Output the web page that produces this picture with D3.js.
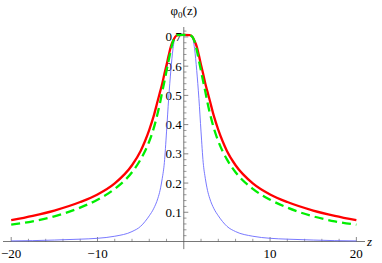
<!doctype html>
<html lang=en>
<head>
<meta charset="utf-8">
<title>phi0</title>
<style>
body { margin: 0; background: #fff; }
</style>
</head>
<body>
<div id=content></div>
<script src="https://cdn.jsdelivr.net/npm/d3@7"></script>
<script>

// z grid shared by all three curves
var zs = [-20,-17.5,-15,-12,-10,-8,-6,-5,-4.5,-4,-3.5,-3,-2.75,-2.5,-2.25,-2,-1.75,-1.5,-1.25,-1,-0.7,0,
          0.7,1,1.25,1.5,1.75,2,2.25,2.5,2.75,3,3.5,4,4.5,5,6,8,10,12,15,17.5,20];

// values
var blueVals  = [0.002,0.003,0.005,0.008,0.011,0.018,0.034,0.052,0.068,0.088,0.112,0.148,0.175,0.215,0.27,0.375,0.49,0.585,0.66,0.698,0.706,0.707,
                 0.706,0.698,0.66,0.585,0.49,0.375,0.27,0.215,0.175,0.148,0.112,0.088,0.068,0.052,0.034,0.018,0.011,0.008,0.005,0.003,0.002];
var redVals   = [0.073,0.088,0.106,0.135,0.161,0.199,0.261,0.310,0.343,0.382,0.428,0.484,0.512,0.540,0.573,0.604,0.637,0.667,0.686,0.70,0.706,0.707,
                 0.706,0.70,0.686,0.667,0.637,0.604,0.573,0.540,0.512,0.484,0.428,0.382,0.343,0.310,0.261,0.199,0.161,0.135,0.106,0.088,0.073];
var greenVals = [0.0575,0.069,0.086,0.116,0.143,0.180,0.237,0.281,0.309,0.343,0.386,0.442,0.475,0.512,0.547,0.584,0.62,0.655,0.684,0.70,0.706,0.707,
                 0.706,0.70,0.684,0.655,0.62,0.584,0.547,0.512,0.475,0.442,0.386,0.343,0.309,0.281,0.237,0.180,0.143,0.116,0.086,0.069,0.0575];

var xTicks = [-20,-10,10,20];
var xTickLabels = ["\u221220","\u221210","10","20"];
var yTicks = [0.1,0.2,0.3,0.4,0.5,0.6,0.7];
var yTickLabels = ["0.1","0.2","0.3","0.4","0.5","0.6","0.7"];

var W = 382, H = 263;
var serif = "'Liberation Serif', serif";

var x = d3.scaleLinear().domain([-20.95, 21]).range([3, 365]);
var y = d3.scaleLinear().domain([-0.026, 0.734]).range([249.1, 27]);

var svg = d3.select("#content").append("svg")
    .attr("width", W).attr("height", H);

var axisCol = "#555";

// axes lines
svg.append("line")
   .attr("x1", x(-20.95)).attr("x2", x(21))
   .attr("y1", y(0)).attr("y2", y(0))
   .attr("stroke", axisCol).attr("stroke-width", 0.8);
svg.append("line")
   .attr("x1", x(0)).attr("x2", x(0))
   .attr("y1", y(-0.026)).attr("y2", y(0.734))
   .attr("stroke", axisCol).attr("stroke-width", 0.8);

// x ticks (pointing up)
var xMinor = d3.range(-20, 21, 2).filter(d => d != 0 && d % 10 != 0);
var gx = svg.append("g").attr("transform", "translate(0," + y(0) + ")");
gx.selectAll(".maj").data(xTicks).join("line")
   .attr("x1", d => x(d)).attr("x2", d => x(d))
   .attr("y1", 0).attr("y2", -4.5)
   .attr("stroke", axisCol).attr("stroke-width", 0.7);
gx.selectAll(".min").data(xMinor).join("line")
   .attr("x1", d => x(d)).attr("x2", d => x(d))
   .attr("y1", 0).attr("y2", -2.7)
   .attr("stroke", axisCol).attr("stroke-width", 0.6);
gx.selectAll("text").data(xTicks).join("text")
   .attr("x", d => x(d)).attr("y", 16)
   .attr("text-anchor", "middle")
   .style("font-family", serif).style("font-size", "13px")
   .text((d, i) => xTickLabels[i]);

// y ticks (pointing right)
var yMinor = d3.range(1, 37).map(d => d * 0.02).filter(d => Math.abs(d * 10 - Math.round(d * 10)) > 1e-6);
var gy = svg.append("g").attr("transform", "translate(" + x(0) + ",0)");
gy.selectAll(".maj").data(yTicks).join("line")
   .attr("x1", 0).attr("x2", 4.5)
   .attr("y1", d => y(d)).attr("y2", d => y(d))
   .attr("stroke", axisCol).attr("stroke-width", 0.7);
gy.selectAll(".min").data(yMinor).join("line")
   .attr("x1", 0).attr("x2", 2.7)
   .attr("y1", d => y(d)).attr("y2", d => y(d))
   .attr("stroke", axisCol).attr("stroke-width", 0.6);
gy.selectAll("text").data(yTicks).join("text")
   .attr("x", -2).attr("y", d => y(d) + 4.5)
   .attr("text-anchor", "end")
   .style("font-family", serif).style("font-size", "13px")
   .text((d, i) => yTickLabels[i]);

// axis labels
var yl = svg.append("text")
   .attr("x", x(0)).attr("y", 15)
   .attr("text-anchor", "middle")
   .style("font-family", serif).style("font-size", "13px");
yl.append("tspan").text("\u03c6");
yl.append("tspan").style("font-size", "9px").attr("dy", 3).text("0");
yl.append("tspan").attr("dy", -3).text("(z)");

svg.append("text")
   .attr("x", 367).attr("y", y(0) + 4)
   .style("font-family", serif).style("font-size", "13px").style("font-style", "italic")
   .text("z");

// curves
var line = d3.line()
   .x(d => x(d[0]))
   .y(d => y(d[1]))
   .curve(d3.curveMonotoneX);

var plt = svg.append("g");
plt.append("path")
   .attr("d", line(d3.zip(zs, blueVals)))
   .attr("fill", "none").attr("stroke", "#6a6aff").attr("stroke-width", 0.9);
plt.append("path")
   .attr("d", line(d3.zip(zs, redVals)))
   .attr("fill", "none").attr("stroke", "#ff0000").attr("stroke-width", 2.3);
plt.append("path")
   .attr("d", line(d3.zip(zs, greenVals)))
   .attr("fill", "none").attr("stroke", "#00ee00").attr("stroke-width", 2.3)
   .attr("stroke-dasharray", "9,5");

</script>
</body>
</html>
